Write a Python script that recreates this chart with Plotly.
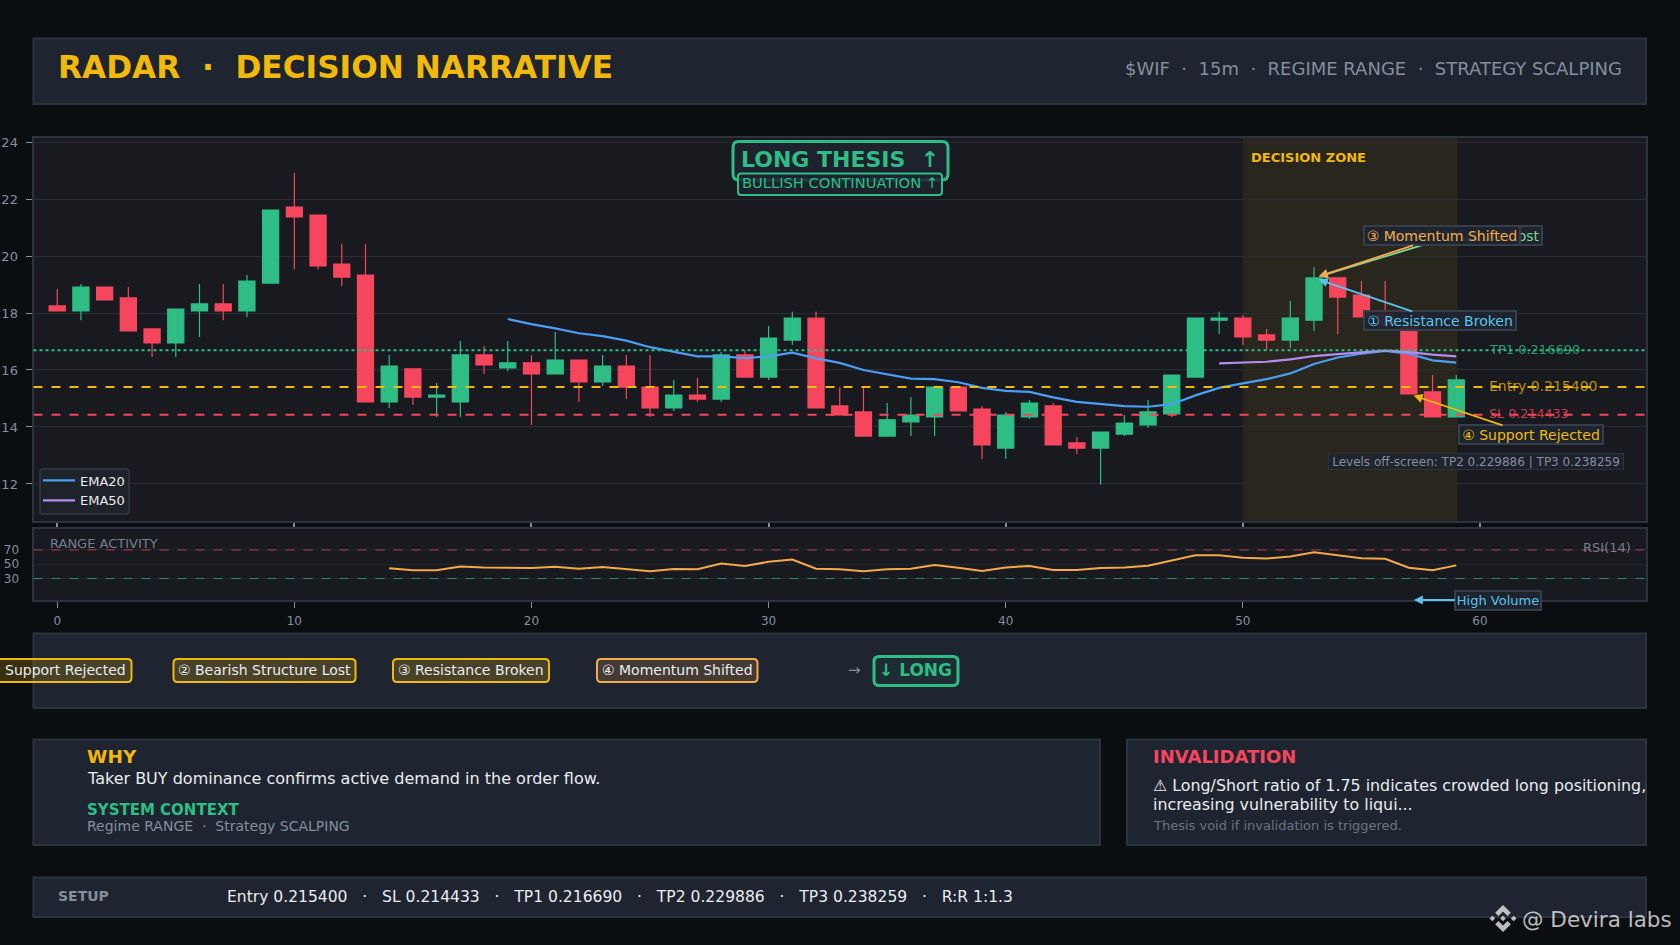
import plotly.graph_objects as go

# candles, in price units
candle_x = list(range(60))
open_ = [0.21825, 0.21807, 0.21891, 0.21853, 0.21744, 0.21695, 0.21807, 0.21832, 0.21807, 0.21905,
         0.22172, 0.22144, 0.21972, 0.21933, 0.21488, 0.21604, 0.21505, 0.21488, 0.21653, 0.21607,
         0.21625, 0.21586, 0.21635, 0.21558, 0.21614, 0.21540, 0.21467, 0.21512, 0.21498, 0.21653,
         0.21575, 0.21705, 0.21782, 0.21474, 0.21453, 0.21368, 0.21418, 0.21435, 0.21540, 0.21463,
         0.21326, 0.21435, 0.21474, 0.21344, 0.21326, 0.21375, 0.21407, 0.21446, 0.21575, 0.21775,
         0.21782, 0.21723, 0.21705, 0.21775, 0.21923, 0.21863, 0.21798, 0.21758, 0.21523, 0.21435]
high = [0.21884, 0.21902, 0.21891, 0.21891, 0.21744, 0.21814, 0.21902, 0.21902, 0.21933, 0.22161,
        0.22291, 0.22144, 0.22042, 0.22042, 0.21653, 0.21604, 0.21554, 0.21702, 0.21684, 0.21702,
        0.21653, 0.21733, 0.21635, 0.21653, 0.21653, 0.21653, 0.21565, 0.21572, 0.21663, 0.21670,
        0.21754, 0.21804, 0.21804, 0.21540, 0.21540, 0.21484, 0.21505, 0.21540, 0.21540, 0.21474,
        0.21453, 0.21495, 0.21484, 0.21365, 0.21382, 0.21442, 0.21495, 0.21582, 0.21782, 0.21804,
        0.21793, 0.21744, 0.21842, 0.21961, 0.21923, 0.21912, 0.21912, 0.21758, 0.21582, 0.21582]
low = [0.21807, 0.21775, 0.21846, 0.21737, 0.21646, 0.21646, 0.21716, 0.21775, 0.21786, 0.21905,
       0.21954, 0.21954, 0.21895, 0.21488, 0.21467, 0.21477, 0.21435, 0.21435, 0.21586, 0.21596,
       0.21407, 0.21586, 0.21488, 0.21544, 0.21498, 0.21435, 0.21456, 0.21488, 0.21488, 0.21575,
       0.21565, 0.21688, 0.21467, 0.21442, 0.21368, 0.21368, 0.21368, 0.21368, 0.21456, 0.21288,
       0.21288, 0.21428, 0.21337, 0.21305, 0.21197, 0.21368, 0.21396, 0.21435, 0.21575, 0.21726,
       0.21688, 0.21670, 0.21677, 0.21737, 0.21726, 0.21786, 0.21758, 0.21516, 0.21435, 0.21435]
close = [0.21807, 0.21891, 0.21846, 0.21737, 0.21695, 0.21814, 0.21832, 0.21807, 0.21912, 0.22161,
         0.22137, 0.21965, 0.21926, 0.21488, 0.21614, 0.21505, 0.21512, 0.21653, 0.21618, 0.21625,
         0.21586, 0.21635, 0.21558, 0.21614, 0.21540, 0.21467, 0.21512, 0.21498, 0.21653, 0.21575,
         0.21712, 0.21782, 0.21467, 0.21442, 0.21368, 0.21425, 0.21442, 0.21540, 0.21456, 0.21337,
         0.21442, 0.21484, 0.21337, 0.21326, 0.21382, 0.21414, 0.21453, 0.21582, 0.21782, 0.21782,
         0.21716, 0.21705, 0.21782, 0.21923, 0.21856, 0.21786, 0.21758, 0.21516, 0.21435, 0.21565]

ema20_x = list(range(19, 60))
ema20 = [0.21779, 0.21761, 0.21746, 0.21729, 0.21719, 0.21703, 0.21680, 0.21664, 0.21648, 0.21648,
         0.21642, 0.21648, 0.21661, 0.21641, 0.21625, 0.21600, 0.21584, 0.21570, 0.21568, 0.21557,
         0.21537, 0.21527, 0.21523, 0.21504, 0.21488, 0.21480, 0.21473, 0.21471, 0.21480, 0.21511,
         0.21537, 0.21553, 0.21568, 0.21588, 0.21621, 0.21644, 0.21657, 0.21667, 0.21657, 0.21634,
         0.21626]
ema50_x = list(range(49, 60))
ema50 = [0.21623, 0.21626, 0.21629, 0.21637, 0.21649, 0.21656, 0.21662, 0.21668, 0.21663, 0.21654,
         0.21648]

rsi_x = list(range(14, 60))
rsi = [44.3, 41.5, 41.5, 47.0, 45.6, 45.6, 44.7, 46.5, 43.8, 46.1, 42.9, 40.1, 43.3, 42.9, 51.1, 47.5,
       53.4, 56.7, 43.8, 42.9, 40.1, 42.9, 43.8, 48.9, 45.2, 40.6, 45.6, 47.5, 42.0, 42.0, 44.7, 45.6,
       47.9, 54.8, 62.6, 62.6, 59.0, 58.0, 60.8, 66.8, 62.6, 58.5, 57.6, 45.2, 41.5, 48.4]

entry = 0.2154
stop = 0.214433
tp1 = 0.21669
tp2 = 0.229886
tp3 = 0.238259
y_ticks = [0.212, 0.214, 0.216, 0.218, 0.22, 0.222, 0.224]
rsi_ticks = [30, 50, 70]

BG = "#0B0E11"
PANEL = "#1E2530"
CHART = "#181A20"
EDGE = "#2B3340"
GOLD = "#F0B90B"
GREEN = "#2EBD85"
RED = "#F6465D"
GRAY = "#848E9C"
LIGHT = "#EAECEF"
CYAN = "#5BC4EC"
ORANGE = "#F5A94A"
W, H = 1680, 945


def px(x):
    return x / W


def py(y):
    return 1 - y / H


fig = go.Figure()

fig.add_trace(go.Candlestick(x=candle_x, open=open_, high=high, low=low, close=close, showlegend=False,
                             whiskerwidth=0, hoverinfo="skip",
                             increasing=dict(line=dict(color=GREEN, width=1.2), fillcolor=GREEN),
                             decreasing=dict(line=dict(color=RED, width=1.2), fillcolor=RED),
                             xaxis="x", yaxis="y"))
fig.add_trace(go.Scatter(x=ema20_x, y=ema20, mode="lines", name="EMA20",
                         line=dict(color="#4A9EF5", width=2.2), xaxis="x", yaxis="y"))
fig.add_trace(go.Scatter(x=ema50_x, y=ema50, mode="lines", name="EMA50",
                         line=dict(color="#B58CF0", width=2.2), xaxis="x", yaxis="y"))
fig.add_trace(go.Scatter(x=rsi_x, y=rsi, mode="lines", showlegend=False,
                         line=dict(color=ORANGE, width=2), xaxis="x2", yaxis="y2"))


def panel(x0, y0, x1, y1):
    fig.add_shape(type="rect", xref="paper", yref="paper", x0=px(x0), x1=px(x1), y0=py(y0), y1=py(y1),
                  fillcolor=PANEL, line=dict(color=EDGE, width=2), layer="below")


def round_box(x0, y0, x1, y1, fill, color, width=2, r=4):
    corners = [f"M {px(x0 + r):.5f},{py(y0):.5f}", f"L {px(x1 - r):.5f},{py(y0):.5f}",
               f"Q {px(x1):.5f},{py(y0):.5f} {px(x1):.5f},{py(y0 + r):.5f}", f"L {px(x1):.5f},{py(y1 - r):.5f}",
               f"Q {px(x1):.5f},{py(y1):.5f} {px(x1 - r):.5f},{py(y1):.5f}", f"L {px(x0 + r):.5f},{py(y1):.5f}",
               f"Q {px(x0):.5f},{py(y1):.5f} {px(x0):.5f},{py(y1 - r):.5f}", f"L {px(x0):.5f},{py(y0 + r):.5f}",
               f"Q {px(x0):.5f},{py(y0):.5f} {px(x0 + r):.5f},{py(y0):.5f} Z"]
    fig.add_shape(type="path", xref="paper", yref="paper", path=" ".join(corners), fillcolor=fill,
                  line=dict(color=color, width=width))


panel(33.5, 38.5, 1646, 104)
panel(33.5, 633.5, 1646, 708)
panel(33.5, 739.5, 1100, 845)
panel(1127, 739.5, 1646, 845)
panel(33.5, 877.5, 1646, 917)

# price levels and the decision window
fig.add_shape(type="rect", xref="x", yref="y domain", x0=50, x1=59.05, y0=0, y1=1,
              fillcolor="rgba(240,185,11,0.08)", line_width=0, layer="below")
for level, color, dash in [(tp1, GREEN, "dot"), (entry, GOLD, "dash"), (stop, RED, "dash")]:
    fig.add_shape(type="line", xref="x domain", yref="y", x0=0, x1=1, y0=level, y1=level,
                  line=dict(color=color, width=2, dash=dash))
for level, color in [(70, "rgba(246,70,93,0.7)"), (30, "rgba(46,189,133,0.7)")]:
    fig.add_shape(type="line", xref="x2 domain", yref="y2", x0=0, x1=1, y0=level, y1=level,
                  line=dict(color=color, width=1, dash="dash"))


def label(x, y, text, size, color, anchor="left", bold=False):
    fig.add_annotation(xref="paper", yref="paper", x=px(x), y=py(y), text=f"<b>{text}</b>" if bold else text,
                       showarrow=False, xanchor=anchor, yanchor="middle", font=dict(size=size, color=color))


label(55.5, 67.5, "RADAR  ·  DECISION NARRATIVE", 31.2, GOLD, bold=True)
label(1624, 69, "$WIF  ·  15m  ·  REGIME RANGE  ·  STRATEGY SCALPING", 18, GRAY, anchor="right")
label(1249, 157, "DECISION ZONE", 13, GOLD, bold=True)
label(1486.5, 349.5, "TP1 0.216690", 13, "rgba(46,189,133,0.8)")
label(1486.5, 386, "Entry 0.215400", 14, "rgba(240,185,11,0.75)")
label(1486.5, 413.5, "SL 0.214433", 12.7, "rgba(246,70,93,0.8)")
label(48, 543, "RANGE ACTIVITY", 13, "#767F8C")
label(1633, 547.5, "RSI(14)", 13, "#767F8C", anchor="right")
label(854.5, 670, "→", 15, GRAY, anchor="center")

label(85, 756, "WHY", 18.5, GOLD, bold=True)
label(84.5, 778, "Taker BUY dominance confirms active demand in the order flow.", 16, LIGHT)
label(85, 809.5, "SYSTEM CONTEXT", 15, GREEN, bold=True)
label(85, 825.5, "Regime RANGE  ·  Strategy SCALPING", 14, GRAY)
label(1151, 756, "INVALIDATION", 18, RED, bold=True)
label(1151, 785, "⚠ Long/Short ratio of 1.75 indicates crowded long positioning,", 15.85, LIGHT)
label(1151, 804.5, "increasing vulnerability to liqui...", 15.85, LIGHT)
label(1151, 825, "Thesis void if invalidation is triggered.", 13, "#6B7480")
label(56, 896, "SETUP", 14, GRAY, bold=True)
label(225, 896.5, "Entry 0.215400   ·   SL 0.214433   ·   TP1 0.216690   ·   TP2 0.229886   ·   TP3 0.238259   ·   R:R 1:1.3",
      15.56, LIGHT)
label(1520, 919.5, "@ Devira labs", 21.5, "rgba(255,255,255,0.72)")


def chip(x0, x1, text, border, fill, size=14, color=LIGHT, y0=659, y1=682, edge=2, r=4):
    round_box(x0, y0, x1, y1, fill, border, edge, r)
    label((x0 + x1) / 2, 669.5, text, size, color, anchor="center")


chip(-17, 131.5, "① Support Rejected", GOLD, "rgba(240,185,11,0.2)")
chip(173.5, 355.5, "② Bearish Structure Lost", GOLD, "rgba(240,185,11,0.2)")
chip(393, 549, "③ Resistance Broken", GOLD, "rgba(240,185,11,0.2)")
chip(597, 757.5, "④ Momentum Shifted", ORANGE, "rgba(245,169,74,0.18)")
chip(874, 958, "<b>↓ LONG</b>", GREEN, "rgba(46,189,133,0.05)", size=17, color=GREEN, y0=656.5, y1=685.5, edge=3, r=5)

# thesis banner, the lower box sits over the edge of the upper one
round_box(733, 141.5, 948, 180, "rgba(30,37,48,0.85)", GREEN, 3, 6)
round_box(738, 173.5, 942, 195, "rgba(30,37,48,0.85)", GREEN, 2, 3)
label(840, 159.5, "<b>LONG THESIS  ↑</b>", 22, GREEN, anchor="center")
label(840, 183, "BULLISH CONTINUATION ↑", 14.7, GREEN, anchor="center")

# legend box, the legend itself has no frame so it can sit tight inside
round_box(40, 469, 129, 514, "#1E2329", EDGE, 2, 3)


def callout(i, price, text, color, ax, ay, w):
    fig.add_annotation(xref="x", yref="y", x=i, y=price, text=text, ax=ax, ay=ay, axref="pixel", ayref="pixel",
                       showarrow=True, arrowhead=2, arrowsize=1, arrowwidth=1.8, arrowcolor=color, standoff=5,
                       width=w, height=17, font=dict(size=14, color=color), bgcolor="rgba(30,37,48,0.92)",
                       bordercolor="#363E4B", borderwidth=2, borderpad=0)


callout(53, close[53], "② Bearish Structure Lost", "#7FD49A", 139, -42, 176)
callout(53, close[53], "③ Momentum Shifted", ORANGE, 128, -42, 154)
callout(53, close[53], "① Resistance Broken", CYAN, 126, 43, 150)
callout(57, close[57], "④ Support Rejected", GOLD, 122, 41, 142)

fig.add_annotation(xref="x2", yref="y2", x=57, y=0, text="High Volume", ax=89, ay=0, axref="pixel", ayref="pixel",
                   showarrow=True, arrowhead=2, arrowsize=1, arrowwidth=1.8, arrowcolor=CYAN, standoff=5,
                   width=84, height=17, font=dict(size=13, color=CYAN), bgcolor="rgba(30,37,48,0.92)",
                   bordercolor="#363E4B", borderwidth=2, borderpad=0)
fig.add_annotation(xref="paper", yref="paper", x=px(1476), y=py(461.5), xanchor="center", yanchor="middle",
                   text=f"Levels off-screen: TP2 {tp2:.6f} | TP3 {tp3:.6f}", showarrow=False,
                   width=294, height=15, font=dict(size=12, color=GRAY), bgcolor="rgba(30,37,48,0.85)",
                   bordercolor="#2B3340", borderwidth=1, borderpad=0)

# logo next to the watermark
cx, cy, s = 1503, 918.5, 13.5


def logo_part(points):
    path = "M " + " L ".join(f"{px(cx + a * s):.5f},{py(cy + b * s):.5f}" for a, b in points) + " Z"
    fig.add_shape(type="path", xref="paper", yref="paper", path=path, line_width=0,
                  fillcolor="rgba(255,255,255,0.72)")


top_part = [(0, -1), (0.58, -0.42), (0.34, -0.18), (0, -0.52), (-0.34, -0.18), (-0.58, -0.42)]
logo_part(top_part)
logo_part([(a, -b) for a, b in top_part])
for off in (-0.79, 0, 0.79):
    logo_part([(off, -0.21), (off + 0.21, 0), (off, 0.21), (off - 0.21, 0)])

fig.update_layout(
    width=W, height=H, margin=dict(l=0, r=0, t=0, b=0), autosize=False,
    paper_bgcolor=BG, plot_bgcolor=CHART,
    font=dict(family="DejaVu Sans", color=GRAY),
    boxgap=0.32, boxgroupgap=0,
    xaxis=dict(domain=[px(33.5), px(1646)], range=[-1, 67], anchor="y", rangeslider=dict(visible=False),
               automargin=False,
               tick0=0, dtick=10, showticklabels=False, ticks="outside", ticklen=6, tickcolor=GRAY, tickwidth=1.5,
               showgrid=False, zeroline=False, showline=True, mirror=True, linecolor=EDGE, linewidth=2),
    yaxis=dict(domain=[py(521), py(137.5)], range=[0.2107, 0.22416], anchor="x", automargin=False,
               tickvals=y_ticks, ticktext=[f"{v:.3f}" for v in y_ticks], ticks="outside", ticklen=6,
               tickcolor=GRAY, tickfont=dict(size=13, color=GRAY), ticklabelstandoff=5,
               gridcolor="#2A2D33", gridwidth=1, zeroline=False,
               showline=True, mirror=True, linecolor=EDGE, linewidth=2),
    xaxis2=dict(domain=[px(33.5), px(1646)], range=[-1, 67], anchor="y2", matches="x", automargin=False,
                tick0=0, dtick=10, ticks="outside", ticklen=6, tickcolor=GRAY, tickfont=dict(size=12, color=GRAY),
                ticklabelstandoff=3,
                showgrid=False, zeroline=False, showline=True, mirror=True, linecolor=EDGE, linewidth=2),
    yaxis2=dict(domain=[py(600), py(528.5)], range=[0, 100], anchor="x2", automargin=False,
                tickvals=rsi_ticks, tickfont=dict(size=12, color=GRAY), ticks="", ticklabelstandoff=10,
                gridcolor="#24272D", zeroline=False,
                showline=True, mirror=True, linecolor=EDGE, linewidth=2),
    legend=dict(x=px(38), y=py(465.5), xanchor="left", yanchor="top", bgcolor="rgba(0,0,0,0)", borderwidth=0,
                itemwidth=32, font=dict(size=13, color=LIGHT)),
    hovermode=False,
)

fig.write_html("out.html", config=dict(displayModeBar=False),
               post_script=f"document.body.style.margin='0';document.body.style.background='{BG}';")
